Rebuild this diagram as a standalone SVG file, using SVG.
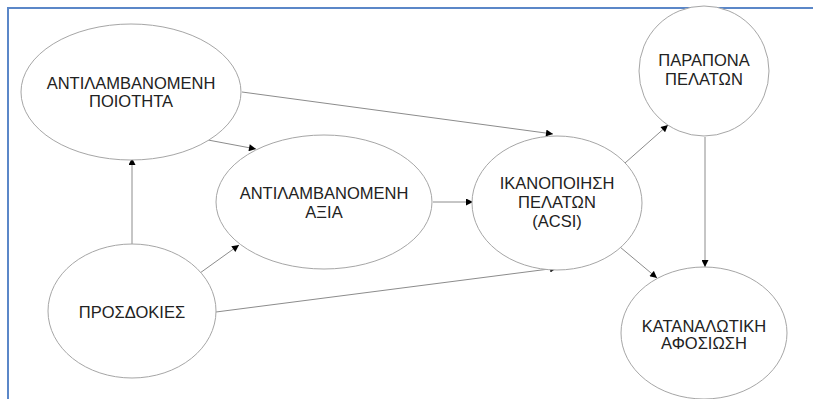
<svg xmlns="http://www.w3.org/2000/svg" width="813" height="399" viewBox="0 0 813 399">
  <style>
    .node ellipse { fill: #ffffff; stroke: #a6a6a6; stroke-width: 1; }
    .node text { font-family: "Liberation Sans", Arial, sans-serif; font-size: 16.5px; fill: #222222; text-anchor: middle; }
    .edge { stroke: #8c8c8c; stroke-width: 1; fill: none; marker-end: url(#arrow); }
    .frame { stroke: #5b87c8; stroke-width: 2; fill: none; }
  </style>
  <defs>
    <marker id="arrow" viewBox="0 0 10 10" refX="10" refY="5" markerWidth="8" markerHeight="7" markerUnits="userSpaceOnUse" orient="auto">
      <path d="M0,0 L10,5 L0,10 z" fill="#000000"/>
    </marker>
  </defs>

  <rect width="813" height="399" fill="#ffffff"/>
  <!-- page frame -->
  <path class="frame" d="M8,399 V8 H813"/>

  <g id="connectors">
    <line class="edge" x1="242" y1="92" x2="553" y2="134"/>
    <line class="edge" x1="208" y1="140" x2="256" y2="149"/>
    <line class="edge" x1="132" y1="245" x2="132" y2="158"/>
    <line class="edge" x1="200" y1="273" x2="239" y2="245"/>
    <line class="edge" x1="216" y1="312" x2="557" y2="268"/>
    <line class="edge" x1="433" y1="202" x2="473" y2="202"/>
    <line class="edge" x1="625" y1="163" x2="668" y2="125"/>
    <line class="edge" x1="705" y1="137" x2="705" y2="267"/>
    <line class="edge" x1="620" y1="247" x2="657" y2="278"/>
  </g>

  <g id="perceived-quality" class="node">
    <ellipse cx="131" cy="92" rx="110" ry="68"/>
    <text x="131" y="89">ΑΝΤΙΛΑΜΒΑΝΟΜΕΝΗ</text>
    <text x="131" y="107">ΠΟΙΟΤΗΤΑ</text>
  </g>

  <g id="perceived-value" class="node">
    <ellipse cx="324" cy="202" rx="108" ry="67"/>
    <text x="324" y="199">ΑΝΤΙΛΑΜΒΑΝΟΜΕΝΗ</text>
    <text x="324" y="218">ΑΞΙΑ</text>
  </g>

  <g id="expectations" class="node">
    <ellipse cx="132" cy="311" rx="84" ry="67"/>
    <text x="132" y="318">ΠΡΟΣΔΟΚΙΕΣ</text>
  </g>

  <g id="satisfaction" class="node">
    <ellipse cx="557" cy="203" rx="85" ry="67"/>
    <text x="557" y="189">ΙΚΑΝΟΠΟΙΗΣΗ</text>
    <text x="557" y="208">ΠΕΛΑΤΩΝ</text>
    <text x="557" y="227">(ACSI)</text>
  </g>

  <g id="complaints" class="node">
    <ellipse cx="704" cy="71" rx="65" ry="65"/>
    <text x="704" y="66">ΠΑΡΑΠΟΝΑ</text>
    <text x="704" y="85">ΠΕΛΑΤΩΝ</text>
  </g>

  <g id="loyalty" class="node">
    <ellipse cx="704" cy="333" rx="83" ry="66"/>
    <text x="704" y="332">ΚΑΤΑΝΑΛΩΤΙΚΗ</text>
    <text x="704" y="349">ΑΦΟΣΙΩΣΗ</text>
  </g>
</svg>
